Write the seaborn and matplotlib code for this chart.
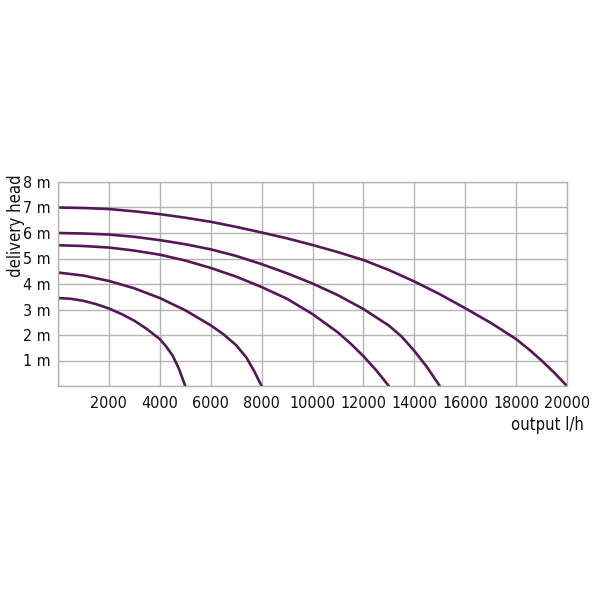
import matplotlib
matplotlib.use("Agg")
import matplotlib.pyplot as plt
from matplotlib import font_manager
import seaborn as sns
import pandas as pd

# ---- data ----
q_a = [0, 1000, 2000, 3000, 4000, 5000, 6000, 7000, 8000, 9000, 10000, 11000, 12000,
       13000, 14000, 15000, 16000, 17000, 18000, 18500, 19000, 19500, 20000]
h_a = [7.0, 6.98, 6.94, 6.85, 6.74, 6.6, 6.44, 6.24, 6.02, 5.79, 5.53, 5.25, 4.94,
       4.55, 4.1, 3.6, 3.05, 2.48, 1.84, 1.44, 1.0, 0.52, 0.0]

q_b = [0, 1000, 2000, 3000, 4000, 5000, 6000, 7000, 8000, 9000, 10000, 11000, 12000,
       13000, 13500, 14000, 14500, 15000]
h_b = [6.0, 5.98, 5.94, 5.85, 5.72, 5.56, 5.36, 5.1, 4.78, 4.42, 4.02, 3.56, 3.02,
       2.37, 1.94, 1.38, 0.74, 0.0]

q_c = [0, 1000, 2000, 3000, 4000, 5000, 6000, 7000, 8000, 9000, 10000, 11000, 11500,
       12000, 12500, 13000]
h_c = [5.52, 5.49, 5.43, 5.31, 5.15, 4.92, 4.63, 4.29, 3.88, 3.42, 2.82, 2.1, 1.66,
       1.17, 0.62, 0.0]

q_d = [0, 1000, 2000, 3000, 4000, 5000, 6000, 6500, 7000, 7400, 7700, 8000]
h_d = [4.45, 4.33, 4.12, 3.83, 3.45, 2.97, 2.38, 2.03, 1.6, 1.12, 0.6, 0.0]

q_e = [0, 500, 1000, 1500, 2000, 2500, 3000, 3500, 4000, 4250, 4500, 4750, 5000]
h_e = [3.45, 3.42, 3.34, 3.21, 3.04, 2.82, 2.56, 2.23, 1.84, 1.55, 1.2, 0.68, 0.0]

x_ticks = [2000, 4000, 6000, 8000, 10000, 12000, 14000, 16000, 18000, 20000]
y_ticks = [1, 2, 3, 4, 5, 6, 7, 8]
y_tick_labels = ["1 m", "2 m", "3 m", "4 m", "5 m", "6 m", "7 m", "8 m"]
x_label = "output l/h"
y_label = "delivery head"

curves = {"a": (q_a, h_a), "b": (q_b, h_b), "c": (q_c, h_c), "d": (q_d, h_d), "e": (q_e, h_e)}
rows = []
for name, (qs, hs) in curves.items():
    for q, h in zip(qs, hs):
        rows.append({"curve": name, "q": q, "h": h})
df = pd.DataFrame(rows)

sns.set_style("white")

# pick a condensed face if one is installed, else Liberation Sans
fam = None
fsize = 10
for f in font_manager.fontManager.ttflist:
    n = (f.name + " " + str(f.stretch) + " " + f.fname).lower()
    if ("condensed" in n or "narrow" in n) and f.style == "normal":
        fam = f.name
        plt.rcParams["font.stretch"] = f.stretch
        fsize = 11.5
        break
if fam is None:
    fam = "Liberation Sans"
plt.rcParams["font.family"] = [fam, "DejaVu Sans"]

LINE = "#541858"
GRID = "#b4b4b4"

fig = plt.figure(figsize=(6, 6), dpi=100)
ax = fig.add_axes([58 / 600, 1 - 386 / 600, (567 - 58) / 600, (386 - 182) / 600])

sns.lineplot(data=df, x="q", y="h", hue="curve", palette=[LINE] * 5,
             legend=False, ax=ax, linewidth=1.9, sort=False, estimator=None)

ax.set_xlim(0, 20000)
ax.set_ylim(0, 8)
ax.set_xticks([0] + x_ticks)
ax.set_xticklabels([""] + [str(t) for t in x_ticks])
ax.set_yticks([0] + y_ticks)
ax.set_yticklabels([""] + y_tick_labels)
ax.grid(True, color=GRID, linewidth=1.0)
ax.set_axisbelow(True)
for s in ax.spines.values():
    s.set_color(GRID)
    s.set_linewidth(1.0)
ax.tick_params(axis="both", length=0, labelsize=fsize, colors="#111111")
ax.tick_params(axis="x", pad=7)
ax.tick_params(axis="y", pad=5)
ax.set_xlabel("")
ax.set_ylabel("")

fig.text(16 / 600, 1 - 174 / 600, y_label, rotation=90, ha="center", va="top",
         fontsize=fsize + 0.5, color="#111111")
fig.text(584 / 600, 1 - 425 / 600, x_label, ha="right", va="center",
         fontsize=fsize + 0.5, color="#111111")

fig.savefig("out.png", dpi=100, facecolor="white")
